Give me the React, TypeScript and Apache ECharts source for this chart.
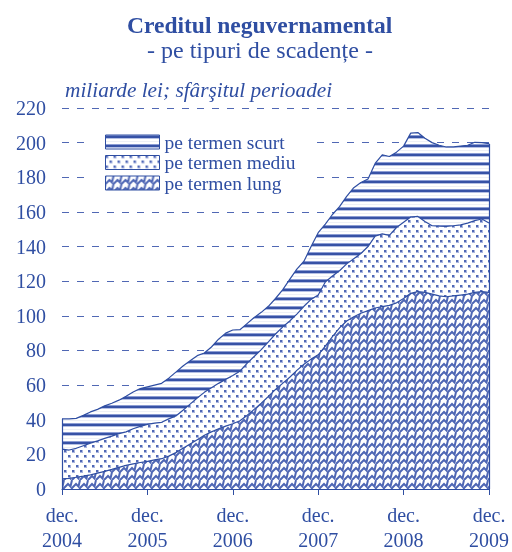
import React, { useEffect, useRef } from "react";
import * as echarts from "echarts";

const monthNames = ["ian.", "feb.", "mar.", "apr.", "mai", "iun.", "iul.", "aug.", "sep.", "oct.", "nov.", "dec."];
const startYear = 2004;

// pe termen lung (bottom layer), mld. lei
const lung = [
  5.9, 6.1, 6.8, 7.4, 8.2, 9.2, 10.2, 11.3, 12.5, 13.6, 14.5, 15.3,
  16.0, 16.8, 17.5, 19.0, 21.0, 23.5, 26.0, 28.5, 31.0, 33.0, 34.8, 36.3,
  37.7, 39.4, 42.5, 46.0, 49.5, 53.5, 57.5, 61.0, 64.5, 68.5, 72.0, 75.0,
  77.5, 82.5, 88.0, 93.0, 97.0, 99.5, 101.5, 103.0, 104.5, 105.3, 106.0, 107.5,
  110.0, 113.0, 114.0, 113.5, 112.5, 111.5, 111.0, 111.5, 112.0, 112.5, 113.5, 114.0,
  113.5,
];
// pe termen mediu
const mediu = [
  17.1, 16.4, 16.7, 17.6, 18.3, 18.6, 19.0, 19.2, 19.5, 19.4, 20.3, 20.9,
  21.3, 21.2, 21.0, 21.5, 21.2, 22.0, 23.0, 24.0, 24.8, 25.5, 26.2, 27.0,
  27.8, 28.6, 30.0, 30.5, 31.0, 31.5, 32.0, 32.5, 32.5, 32.5, 33.5, 34.5,
  34.5, 37.0, 35.0, 33.0, 33.0, 33.5, 34.5, 37.0, 41.5, 42.0, 40.5, 43.5,
  44.0, 44.0, 43.4, 41.0, 39.5, 40.3, 40.7, 40.5, 40.5, 41.0, 41.5, 41.9,
  40.1,
];
// pe termen scurt
const scurt = [
  17.5, 18.0, 17.3, 17.5, 18.0, 18.2, 18.8, 19.0, 19.3, 20.5, 21.2, 21.8,
  21.7, 22.0, 22.5, 23.5, 25.3, 25.5, 25.0, 24.5, 22.7, 23.5, 25.5, 26.7,
  26.3, 24.0, 23.0, 22.5, 21.5, 20.5, 20.5, 21.5, 24.0, 26.0, 26.0, 30.5,
  36.0, 33.5, 35.5, 37.0, 39.0, 41.0, 41.0, 39.0, 42.0, 45.7, 45.5, 43.5,
  44.0, 48.5, 48.4, 48.0, 48.0, 46.7, 45.8, 45.5, 45.5, 45.0, 45.2, 44.1,
  45.8,
];

const seriesNames = ["pe termen scurt", "pe termen mediu", "pe termen lung"];

const categories: string[] = lung.map((_, i) => {
  const m = (11 + i) % 12;
  const y = startYear + Math.floor((11 + i) / 12);
  return `${monthNames[m]} ${y}`;
});

const BLUE = "#2f4ea2";
const FONT = "'Liberation Serif', 'Times New Roman', serif";

function makeTile(w: number, h: number, draw: (ctx: CanvasRenderingContext2D) => void) {
  const c = document.createElement("canvas");
  c.width = w;
  c.height = h;
  const ctx = c.getContext("2d")!;
  ctx.fillStyle = "#ffffff";
  ctx.fillRect(0, 0, w, h);
  draw(ctx);
  return c;
}

export default function App() {
  const ref = useRef<HTMLDivElement>(null);
  useEffect(() => {
    if (!ref.current) return;
    const stripes = makeTile(9, 9, (ctx) => {
      ctx.fillStyle = "#8c9dd4";
      ctx.fillRect(0, 0, 9, 1);
      ctx.fillStyle = "#3752a6";
      ctx.fillRect(0, 1, 9, 2);
      ctx.fillStyle = "#b6c1e4";
      ctx.fillRect(0, 3, 9, 1);
      ctx.fillStyle = "#eef0f6";
      ctx.fillRect(0, 6, 9, 1);
    });
    const dots = makeTile(8, 10, (ctx) => {
      ctx.fillStyle = "#a9b5df";
      ctx.fillRect(0, 0, 3, 3);
      ctx.fillRect(4, 5, 3, 3);
      ctx.fillStyle = "#4f67b5";
      ctx.fillRect(0, 0, 2, 2);
      ctx.fillRect(4, 5, 2, 2);
    });
    const weave = makeTile(16, 16, (ctx) => {
      ctx.strokeStyle = "#4e66b4";
      ctx.lineWidth = 2;
      for (const x0 of [-16, -8, 0, 8, 16]) {
        ctx.beginPath();
        ctx.moveTo(x0, 16);
        ctx.lineTo(x0 + 4, 12);
        ctx.lineTo(x0 + 6.5, 14.5);
        ctx.lineTo(x0 + 8, 8);
        ctx.lineTo(x0 + 12, 4);
        ctx.lineTo(x0 + 14.5, 6.5);
        ctx.lineTo(x0 + 16, 0);
        ctx.stroke();
      }
    });
    const pat = (img: HTMLCanvasElement) => ({ image: img, repeat: "repeat" as const });
    const patterns: Record<string, any> = {
      [seriesNames[0]]: pat(stripes),
      [seriesNames[1]]: pat(dots),
      [seriesNames[2]]: pat(weave),
    };
    const layers: [string, number[]][] = [
      [seriesNames[2], lung],
      [seriesNames[1], mediu],
      [seriesNames[0], scurt],
    ];
    const last = categories.length - 1;
    const total0 = lung[0] + mediu[0] + scurt[0];
    const totalN = lung[last] + mediu[last] + scurt[last];

    const chart = echarts.init(ref.current, undefined, { renderer: "svg" });
    chart.setOption({
      animation: false,
      title: [
        {
          text: "Creditul neguvernamental",
          left: 127,
          top: 13,
          padding: 0,
          textStyle: { fontFamily: FONT, fontWeight: "bold", fontSize: 23.5, color: BLUE },
        },
        {
          text: "- pe tipuri de scadențe -",
          left: 147,
          top: 38,
          padding: 0,
          textStyle: { fontFamily: FONT, fontWeight: "normal", fontSize: 24, color: BLUE },
        },
        {
          text: "miliarde lei; sfârşitul perioadei",
          left: 65,
          top: 79,
          padding: 0,
          textStyle: { fontFamily: FONT, fontWeight: "normal", fontStyle: "italic", fontSize: 21.3, color: BLUE },
        },
      ],
      legend: {
        orient: "vertical",
        left: 88,
        top: 128,
        padding: [4, 15, 4, 17],
        backgroundColor: "#ffffff",
        itemWidth: 54,
        itemHeight: 14,
        itemGap: 0.5,
        icon: "rect",
        selectedMode: false,
        textStyle: { fontFamily: FONT, fontSize: 19.5, color: BLUE, lineHeight: 20 },
        data: seriesNames.map((n) => ({
          name: n,
          itemStyle: { color: patterns[n], borderColor: BLUE, borderWidth: 1 },
        })),
      },
      grid: { left: 62, right: 21, top: 108, bottom: 60 },
      xAxis: {
        type: "category",
        data: categories,
        boundaryGap: false,
        axisLine: { lineStyle: { color: BLUE, width: 1.2 } },
        axisTick: { interval: 11, length: 6, lineStyle: { color: BLUE } },
        axisLabel: {
          interval: 11,
          formatter: (v: string) => v.replace(" ", "\n"),
          fontFamily: FONT,
          fontSize: 20,
          color: BLUE,
          lineHeight: 25,
          margin: 13,
        },
        splitLine: { show: false },
      },
      yAxis: {
        type: "value",
        min: 0,
        max: 220,
        interval: 20,
        axisLine: { show: false },
        axisTick: { show: false },
        axisLabel: { fontFamily: FONT, fontSize: 20, color: BLUE, margin: 16 },
        splitLine: { lineStyle: { color: "#5068b4", type: [7, 8], width: 1 } },
      },
      series: layers.map(([name, vals], idx) => ({
        name,
        type: "line",
        stack: "total",
        data: vals,
        symbol: "none",
        silent: true,
        lineStyle: { color: BLUE, width: 1.2 },
        itemStyle: { color: BLUE },
        areaStyle: { color: patterns[name], opacity: 1 },
        emphasis: { disabled: true },
        markLine:
          idx === layers.length - 1
            ? {
                silent: true,
                symbol: "none",
                label: { show: false },
                lineStyle: { color: BLUE, width: 1.2, type: "solid" },
                data: [
                  [{ coord: [0, 0] }, { coord: [0, total0] }],
                  [{ coord: [last, 0] }, { coord: [last, totalN] }],
                ],
              }
            : undefined,
      })),
    });
    return () => chart.dispose();
  }, []);
  return <div ref={ref} style={{ position: "fixed", left: 0, top: 0, width: 512, height: 552 }} />;
}
